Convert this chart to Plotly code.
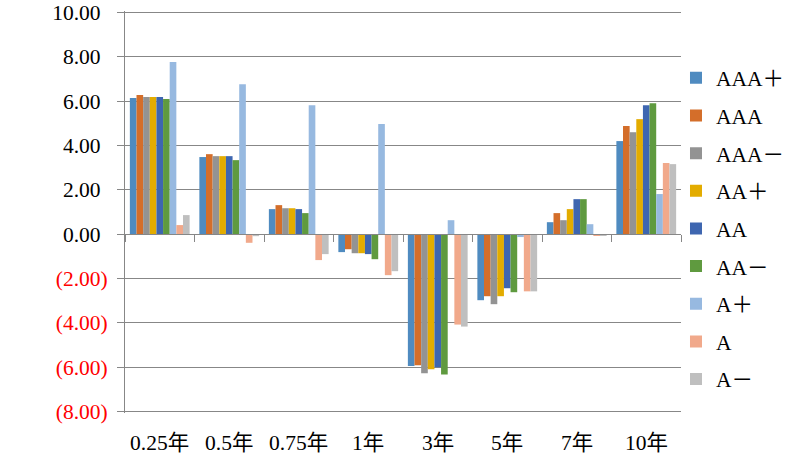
import plotly.graph_objects as go

categories = ["0.25年", "0.5年", "0.75年", "1年", "3年", "5年", "7年", "10年"]
series_names = ["AAA＋", "AAA", "AAA－", "AA＋", "AA", "AA－", "A＋", "A", "A－"]
colors = ["#4F8BC0", "#D46E2A", "#939393", "#E3AC00", "#3E66B0", "#5F9A3F", "#97B9E0", "#F1A98B", "#BFBFBF"]

aaa_plus  = [6.14, 3.48, 1.13, -0.81, -5.95, -2.98, 0.54, 4.20]
aaa       = [6.28, 3.61, 1.31, -0.68, -5.91, -2.80, 0.95, 4.88]
aaa_minus = [6.19, 3.52, 1.17, -0.86, -6.28, -3.16, 0.63, 4.60]
aa_plus   = [6.19, 3.52, 1.17, -0.86, -6.10, -2.80, 1.13, 5.19]
aa        = [6.19, 3.52, 1.13, -0.90, -6.00, -2.44, 1.58, 5.82]
aa_minus  = [6.10, 3.34, 0.95, -1.13, -6.33, -2.62, 1.58, 5.91]
a_plus    = [7.77, 6.77, 5.82, 4.97, 0.63, -0.13, 0.45, 1.81]
a_mid     = [0.41, -0.39, -1.17, -1.85, -4.08, -2.58, -0.08, 3.21]
a_minus   = [0.86, -0.09, -0.90, -1.67, -4.17, -2.58, -0.08, 3.16]

series_values = [aaa_plus, aaa, aaa_minus, aa_plus, aa, aa_minus, a_plus, a_mid, a_minus]

y_tickvals = [10, 8, 6, 4, 2, 0, -2, -4, -6, -8]
PAD = "<span style='color:#FFFFFF'>)</span>"
y_ticktext = ["10.00" + PAD, "8.00" + PAD, "6.00" + PAD, "4.00" + PAD,
              "2.00" + PAD, "0.00" + PAD,
              "<span style='color:#FF0000'>(2.00)</span>",
              "<span style='color:#FF0000'>(4.00)</span>",
              "<span style='color:#FF0000'>(6.00)</span>",
              "<span style='color:#FF0000'>(8.00)</span>"]

FONT = "'Liberation Serif', 'Times New Roman', 'Noto Sans CJK SC', serif"
FS = 21.5
GRID = "#878787"
Y_MIN, Y_MAX = -8.07, 10.07

fig = go.Figure()
for i, (name, vals, col) in enumerate(zip(series_names, series_values, colors)):
    fig.add_trace(go.Bar(x=categories, y=vals, name=name, marker_color=col,
                         marker_line_width=0, legendgroup=f"g{i}"))

# category labels along the bottom edge of the plot area
for cat in categories:
    fig.add_annotation(x=cat, xref="x", y=0, yref="paper", text=cat,
                       showarrow=False, yanchor="top", yshift=-16,
                       font=dict(family=FONT, size=FS, color="#000000"))

fig.update_layout(
    width=804, height=460,
    margin=dict(l=125, r=123, t=11, b=47, autoexpand=False),
    paper_bgcolor="white", plot_bgcolor="white",
    barmode="group", bargap=0.14, bargroupgap=0,
    font=dict(family=FONT, size=FS, color="#000000"),
    showlegend=True,
    legend=dict(x=0.991, xanchor="left", y=0.8846, yanchor="top",
                font=dict(family=FONT, size=FS, color="#000000"),
                tracegroupgap=6.7, bgcolor="rgba(0,0,0,0)"),
    xaxis=dict(type="category", anchor="free", position=(0 - Y_MIN) / (Y_MAX - Y_MIN),
               range=[-0.5, 7.5], showline=True, linecolor=GRID, linewidth=1,
               ticks="outside", ticklen=7, tickcolor=GRID, tickwidth=1,
               tickson="boundaries", showticklabels=False, showgrid=False,
               zeroline=False, automargin=False),
    yaxis=dict(range=[Y_MIN, Y_MAX], tickvals=y_tickvals, ticktext=y_ticktext,
               showgrid=True, gridcolor=GRID, gridwidth=1,
               showline=True, linecolor=GRID, linewidth=1,
               ticks="outside", ticklen=7, tickcolor=GRID, tickwidth=1,
               zeroline=False, tickfont=dict(family=FONT, size=FS),
               ticklabelstandoff=5, ticklabeloverflow="allow", automargin=False),
)

fig.write_html("out.html", config={"displayModeBar": False},
               post_script="document.body.style.margin='0';document.body.style.padding='0';")
